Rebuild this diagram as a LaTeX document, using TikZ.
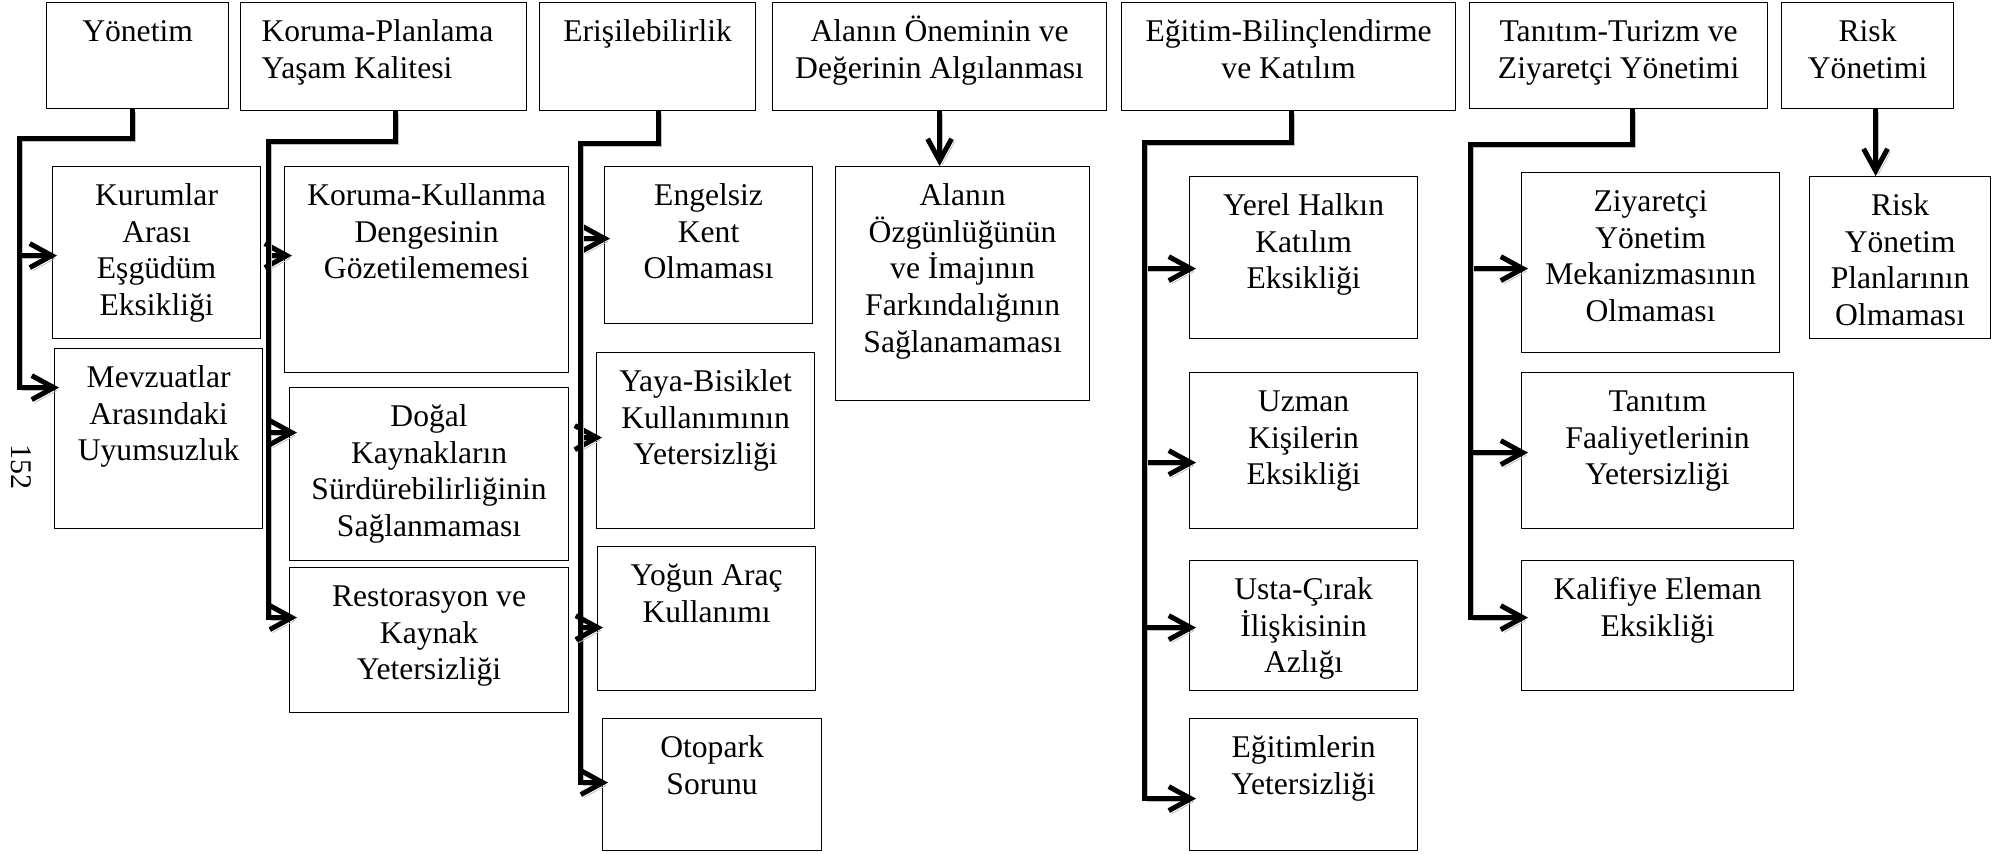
\documentclass[tikz,border=0pt]{standalone}
\usepackage{fontspec}
\setmainfont{Liberation Serif}
\usetikzlibrary{arrows.meta}
\newdimen\kpx
\kpx=0.5pt
\newcommand{\kutuIc}[4][\centering]{\parbox[t][#3\kpx][t]{#2\kpx}{#1\rule{0pt}{19.5pt}#4}}

\begin{document}
\begin{tikzpicture}[x=0.5pt,y=-0.5pt,
  font=\fontsize{15.8pt}{18.3pt}\selectfont,
  kutu/.style={draw, line width=0.6pt, inner sep=0pt, anchor=north west},
  bag/.style={line width=2.5pt, -{Straight Barb[length=11pt,width=12pt,quick]},
    preaction={draw=gray!50, transform canvas={shift={(1.5pt,-1.5pt)}}}}]
\useasboundingbox (0,0) rectangle (2010,853);
\node[kutu] (yonetim) at (46,2) {\kutuIc{182}{106}{Yönetim}};
\node[kutu] (korplan) at (240,2) {\kutuIc[\raggedright\leftskip=10.5pt]{286}{108}{Koruma-Planlama\\Yaşam Kalitesi}};
\node[kutu] (erisim) at (539,2) {\kutuIc{216}{108}{Erişilebilirlik}};
\node[kutu] (alan) at (772,2) {\kutuIc{334}{108}{Alanın Öneminin ve\\Değerinin Algılanması}};
\node[kutu] (egitim) at (1121,2) {\kutuIc{334}{108}{Eğitim-Bilinçlendirme\\ve Katılım}};
\node[kutu] (tanitim) at (1469,2) {\kutuIc{298}{106}{Tanıtım-Turizm ve\\Ziyaretçi Yönetimi}};
\node[kutu] (risk) at (1781,2) {\kutuIc{172}{106}{Risk\\Yönetimi}};
\node[kutu] (kurumlar) at (52,166) {\kutuIc{208}{172}{Kurumlar\\Arası\\Eşgüdüm\\Eksikliği}};
\node[kutu] (mevzuat) at (54,348) {\kutuIc{208}{180}{Mevzuatlar\\Arasındaki\\Uyumsuzluk}};
\node[kutu] (korkul) at (284,166) {\kutuIc{284}{206}{Koruma-Kullanma\\Dengesinin\\Gözetilememesi}};
\node[kutu] (dogal) at (289,387) {\kutuIc{279}{173}{Doğal\\Kaynakların\\Sürdürebilirliğinin\\Sağlanmaması}};
\node[kutu] (restor) at (289,567) {\kutuIc{279}{145}{Restorasyon ve\\Kaynak\\Yetersizliği}};
\node[kutu] (engel) at (604,166) {\kutuIc{208}{157}{Engelsiz\\Kent\\Olmaması}};
\node[kutu] (yaya) at (596,352) {\kutuIc{218}{176}{Yaya-Bisiklet\\Kullanımının\\Yetersizliği}};
\node[kutu] (yogun) at (597,546) {\kutuIc{218}{144}{Yoğun Araç\\Kullanımı}};
\node[kutu] (otopark) at (602,718) {\kutuIc{219}{132}{Otopark\\Sorunu}};
\node[kutu] (ozgun) at (835,166) {\kutuIc{254}{234}{Alanın\\Özgünlüğünün\\ve İmajının\\Farkındalığının\\Sağlanamaması}};
\node[kutu] (yerel) at (1189,176) {\kutuIc{228}{162}{Yerel Halkın\\Katılım\\Eksikliği}};
\node[kutu] (uzman) at (1189,372) {\kutuIc{228}{156}{Uzman\\Kişilerin\\Eksikliği}};
\node[kutu] (usta) at (1189,560) {\kutuIc{228}{130}{Usta-Çırak\\İlişkisinin\\Azlığı}};
\node[kutu] (egitimler) at (1189,718) {\kutuIc{228}{132}{Eğitimlerin\\Yetersizliği}};
\node[kutu] (ziyaret) at (1521,172) {\kutuIc{258}{180}{Ziyaretçi\\Yönetim\\Mekanizmasının\\Olmaması}};
\node[kutu] (faaliyet) at (1521,372) {\kutuIc{272}{156}{Tanıtım\\Faaliyetlerinin\\Yetersizliği}};
\node[kutu] (kalifiye) at (1521,560) {\kutuIc{272}{130}{Kalifiye Eleman\\Eksikliği}};
\node[kutu] (riskplan) at (1809,176) {\kutuIc{181}{162}{Risk\\Yönetim\\Planlarının\\Olmaması}};
\node[rotate=-90, font=\fontsize{15pt}{16pt}\selectfont] (sayfa) at (21,467) {152};
\coordinate (yb) at (19,138);
\coordinate (kb) at (268,141);
\coordinate (eb) at (580,143);
\coordinate (gb) at (1144,142);
\coordinate (tb) at (1470,144);
\coordinate (rk) at ([xshift=4pt]risk.south);
\draw[bag] ([xshift=-2.5pt]yonetim.south) |- (yb) |- ([xshift=2.5pt,yshift=25.5pt]mevzuat.west);
\draw[bag] (yb) |- ([xshift=2.5pt,yshift=-1.5pt]kurumlar.west);
\draw[bag] ([xshift=6pt]korplan.south) |- (kb) |- ([xshift=4pt,yshift=11.25pt]restor.west);
\draw[bag] (kb) |- ([xshift=4pt,yshift=7pt]korkul.west);
\draw[bag] (kb) |- ([xshift=4pt,yshift=20.75pt]dogal.west);
\draw[bag] ([xshift=5.5pt]erisim.south) |- (eb) |- ([xshift=3pt,yshift=1pt]otopark.west);
\draw[bag] (eb) |- ([xshift=3pt,yshift=3.25pt]engel.west);
\draw[bag] (eb) |- ([xshift=3pt,yshift=1.5pt]yaya.west);
\draw[bag] (eb) |- ([xshift=3pt,yshift=-4.5pt]yogun.west);
\draw[bag] (alan.south) -- (alan.south |- ozgun.north);
\draw[bag] ([xshift=1.5pt]egitim.south) |- (gb) |- ([xshift=3.5pt,yshift=-7pt]egitimler.west);
\draw[bag] (gb) |- ([xshift=3.5pt,yshift=-5.5pt]yerel.west);
\draw[bag] (gb) |- ([xshift=3.5pt,yshift=-6pt]uzman.west);
\draw[bag] (gb) |- ([xshift=3.5pt,yshift=-1pt]usta.west);
\draw[bag] ([xshift=7pt]tanitim.south) |- (tb) |- ([xshift=3.5pt,yshift=4pt]kalifiye.west);
\draw[bag] (tb) |- ([xshift=3.5pt,yshift=-3pt]ziyaret.west);
\draw[bag] (tb) |- ([xshift=3.5pt,yshift=-1pt]faaliyet.west);
\draw[bag] (rk) -- (rk |- riskplan.north);
\end{tikzpicture}
\end{document}
